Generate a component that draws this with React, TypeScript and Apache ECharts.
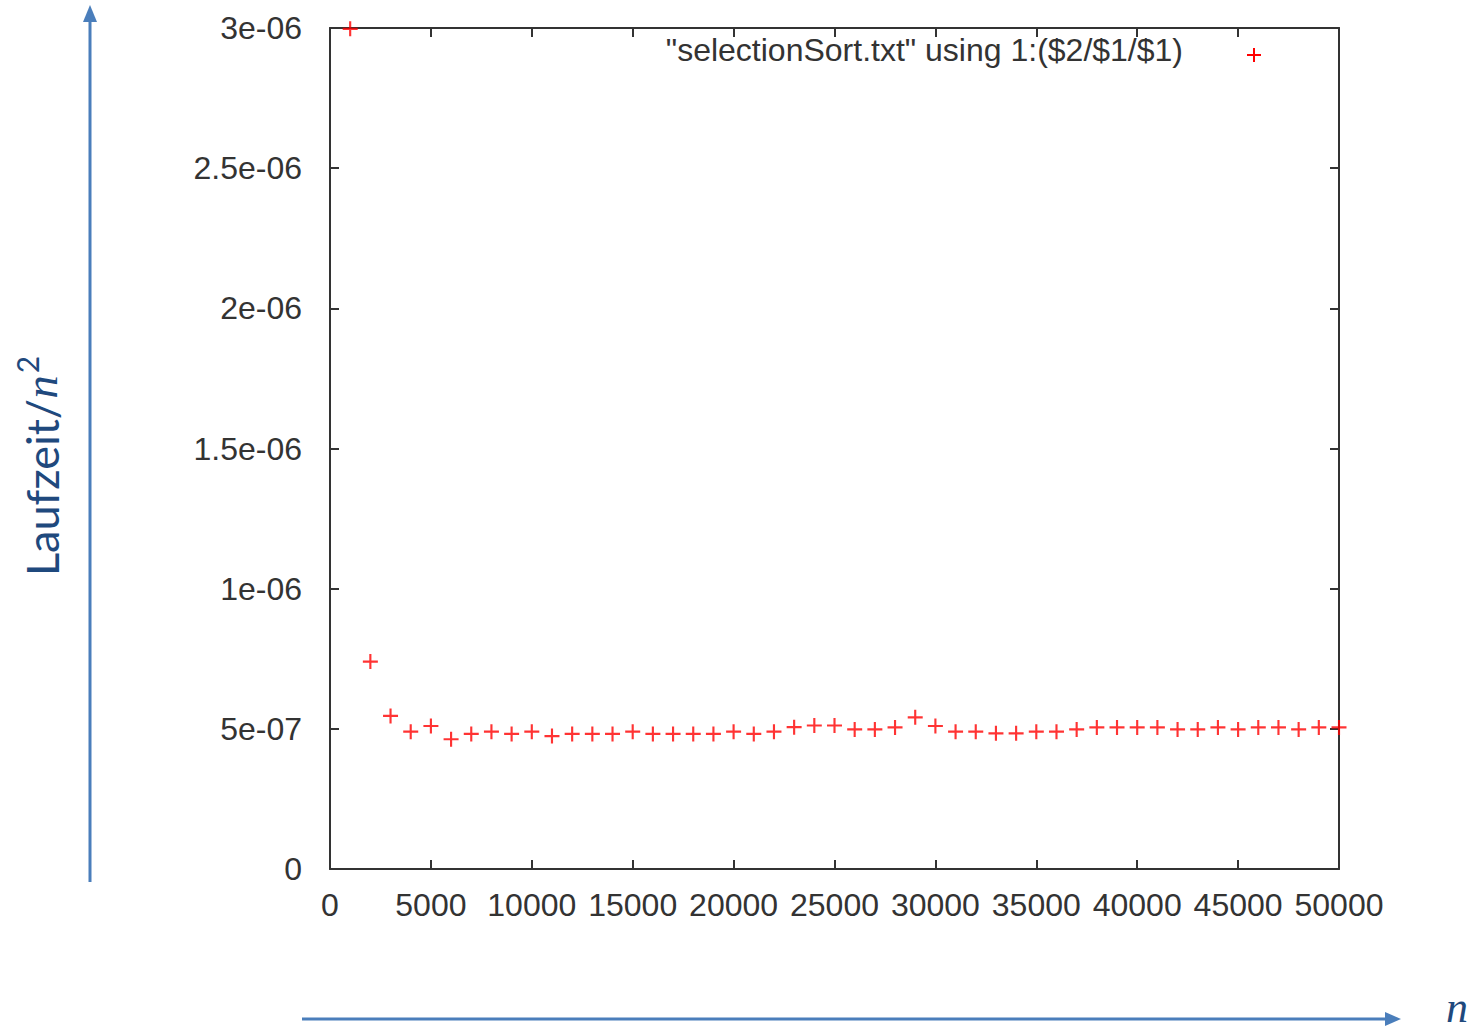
import React, { useEffect, useRef } from "react";
import * as echarts from "echarts";

const nValues: number[] = [
  1000, 2000, 3000, 4000, 5000, 6000, 7000, 8000, 9000, 10000,
  11000, 12000, 13000, 14000, 15000, 16000, 17000, 18000, 19000, 20000,
  21000, 22000, 23000, 24000, 25000, 26000, 27000, 28000, 29000, 30000,
  31000, 32000, 33000, 34000, 35000, 36000, 37000, 38000, 39000, 40000,
  41000, 42000, 43000, 44000, 45000, 46000, 47000, 48000, 49000, 50000,
];

const timePerN2: number[] = [
  2.997e-6, 0.740e-6, 0.546e-6, 0.490e-6, 0.510e-6, 0.463e-6, 0.482e-6, 0.490e-6, 0.482e-6, 0.490e-6,
  0.474e-6, 0.482e-6, 0.482e-6, 0.482e-6, 0.490e-6, 0.482e-6, 0.482e-6, 0.482e-6, 0.482e-6, 0.490e-6,
  0.482e-6, 0.490e-6, 0.506e-6, 0.512e-6, 0.512e-6, 0.498e-6, 0.498e-6, 0.505e-6, 0.541e-6, 0.510e-6,
  0.490e-6, 0.490e-6, 0.484e-6, 0.484e-6, 0.490e-6, 0.490e-6, 0.498e-6, 0.505e-6, 0.505e-6, 0.505e-6,
  0.505e-6, 0.498e-6, 0.498e-6, 0.505e-6, 0.498e-6, 0.505e-6, 0.505e-6, 0.498e-6, 0.505e-6, 0.505e-6,
];

const yTickLabels: string[] = ["0", "5e-07", "1e-06", "1.5e-06", "2e-06", "2.5e-06", "3e-06"];
const xTickLabels: string[] = ["0", "5000", "10000", "15000", "20000", "25000", "30000", "35000", "40000", "45000", "50000"];

const seriesName = '"selectionSort.txt" using 1:($2/$1/$1)';

const PLUS = "path://M6,0 H8 V6 H14 V8 H8 V14 H6 V8 H0 V6 H6 Z";

export default function App() {
  const ref = useRef<HTMLDivElement>(null);

  useEffect(() => {
    if (!ref.current) return;
    const chart = echarts.init(ref.current, null, { renderer: "svg" });

    const axisColor = "#333333";
    const labelColor = "#333333";
    const font = "'Liberation Sans', Arial, sans-serif";
    const blue = "#4a7ebb";
    const darkBlue = "#1f497d";

    const baseX = {
      type: "value" as const,
      min: 0,
      max: 50000,
      interval: 5000,
      splitLine: { show: false },
      axisLine: { show: true, onZero: false, lineStyle: { color: axisColor, width: 2 } },
      axisTick: { show: true, inside: true, length: 9, lineStyle: { color: axisColor, width: 2 } },
    };
    const baseY = {
      type: "value" as const,
      min: 0,
      max: 3e-6,
      interval: 5e-7,
      splitLine: { show: false },
      axisLine: { show: true, onZero: false, lineStyle: { color: axisColor, width: 2 } },
      axisTick: { show: true, inside: true, length: 9, lineStyle: { color: axisColor, width: 2 } },
    };

    chart.setOption({
      animation: false,
      backgroundColor: "#ffffff",
      grid: { left: 330, right: 140, top: 28, bottom: 162, containLabel: false },
      xAxis: [
        {
          ...baseX,
          position: "bottom",
          axisLabel: {
            show: true,
            margin: 20,
            color: labelColor,
            fontSize: 32,
            fontFamily: font,
            formatter: (v: number) => xTickLabels[Math.round(v / 5000)] ?? "",
          },
        },
        { ...baseX, position: "top", axisLabel: { show: false } },
      ],
      yAxis: [
        {
          ...baseY,
          position: "left",
          axisLabel: {
            show: true,
            margin: 28,
            color: labelColor,
            fontSize: 32,
            fontFamily: font,
            padding: [0, 0, 6, 0],
            formatter: (v: number) => yTickLabels[Math.round(v / 5e-7)] ?? "",
          },
        },
        { ...baseY, position: "right", axisLabel: { show: false } },
      ],
      series: [
        {
          name: seriesName,
          type: "scatter",
          xAxisIndex: 0,
          yAxisIndex: 0,
          symbol: PLUS,
          symbolSize: 15,
          itemStyle: { color: "#ff0000" },
          clip: false,
          data: nValues.map((n, i) => [n, timePerN2[i]]),
        },
      ],
      graphic: [
        // key
        {
          type: "text",
          x: 1183,
          y: 50,
          style: {
            text: seriesName,
            fill: labelColor,
            font: `32px ${font}`,
            align: "right",
            verticalAlign: "middle",
          },
        },
        { type: "line", shape: { x1: 1247, y1: 55, x2: 1261, y2: 55 }, style: { stroke: "#ff0000", lineWidth: 2 } },
        { type: "line", shape: { x1: 1254, y1: 48, x2: 1254, y2: 62 }, style: { stroke: "#ff0000", lineWidth: 2 } },
        // vertical arrow
        { type: "line", shape: { x1: 90, y1: 882, x2: 90, y2: 20 }, style: { stroke: blue, lineWidth: 3 } },
        { type: "polygon", shape: { points: [[90, 5], [83, 22], [97, 22]] }, style: { fill: blue } },
        // horizontal arrow
        { type: "line", shape: { x1: 302, y1: 1019, x2: 1388, y2: 1019 }, style: { stroke: blue, lineWidth: 3 } },
        { type: "polygon", shape: { points: [[1401, 1019], [1385, 1012], [1385, 1026]] }, style: { fill: blue } },
        // x-axis name
        {
          type: "text",
          x: 1457,
          y: 1007,
          style: {
            text: "n",
            fill: darkBlue,
            font: `italic 44px 'Liberation Serif', 'DejaVu Serif', serif`,
            lineHeight: 36,
            align: "center",
            verticalAlign: "middle",
          },
        },
        // y-axis name
        {
          type: "text",
          x: 38,
          y: 466,
          rotation: Math.PI / 2,
          style: {
            text: "{a|Laufzeit/}{n|n}{s|2}",
            fill: darkBlue,
            align: "center",
            verticalAlign: "middle",
            rich: {
              a: { fontFamily: "Lato, 'Noto Sans', sans-serif", fontSize: 45, fill: darkBlue, verticalAlign: "bottom", lineHeight: 52 },
              n: { fontFamily: "'Liberation Serif', 'DejaVu Serif', serif", fontStyle: "italic", fontSize: 47, fill: darkBlue, verticalAlign: "bottom", lineHeight: 52 },
              s: { fontFamily: "Lato, 'Noto Sans', sans-serif", fontSize: 30, fill: darkBlue, verticalAlign: "top", lineHeight: 52, padding: [0, 0, 14, 2] },
            },
          },
        },
      ],
    });

    return () => chart.dispose();
  }, []);

  return (
    <div
      ref={ref}
      style={{ position: "fixed", left: 0, top: 0, width: 1479, height: 1031, background: "#fff" }}
    />
  );
}
